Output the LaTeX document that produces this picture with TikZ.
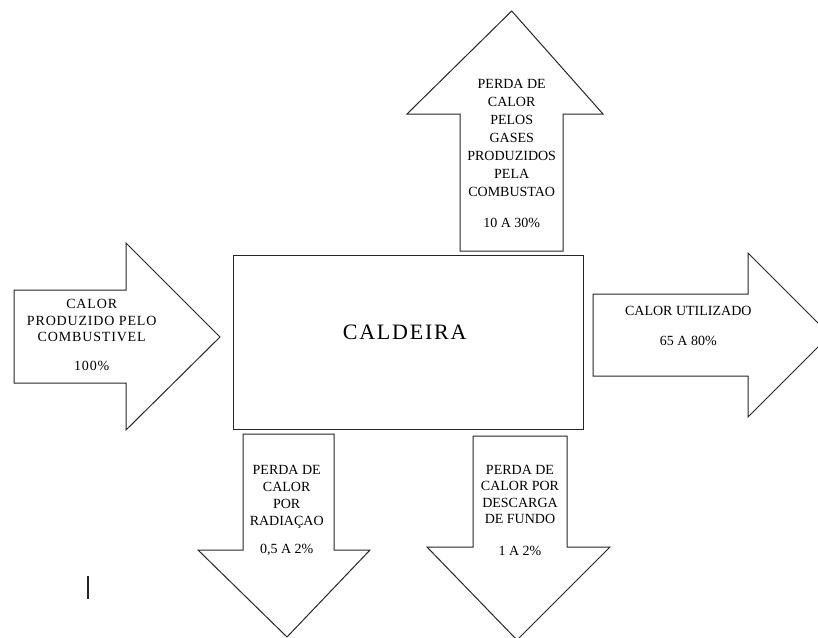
\documentclass[tikz,border=0pt]{standalone}
\usepackage{fontspec}
\setmainfont{Liberation Serif}
\begin{document}
\begin{tikzpicture}[x=1pt,y=-1pt,
  shp/.style={draw=black!85, line width=1pt, fill=white, line join=miter},
  lbl/.style={align=center, inner sep=0pt, anchor=base}]
\useasboundingbox (0,0) rectangle (818,637);
\clip (0,0) rectangle (818,637);
% top arrow
\draw[shp] (460,251) -- (460,114) -- (407,114) -- (511.7,11) -- (603,114) -- (563,114) -- (563,251) -- cycle;
% main box
\draw[shp] (233,255) rectangle (583,429);
% left arrow
\draw[shp] (14,290) -- (126,290) -- (126,243) -- (220,337) -- (126,430) -- (126,383) -- (14,383) -- cycle;
% right arrow
\draw[shp] (593,294) -- (748,294) -- (748,253) -- (830,335) -- (748,417) -- (748,376) -- (593,376) -- cycle;
% bottom left arrow
\draw[shp] (243,434) -- (334,434) -- (334,550) -- (370,550) -- (287,637) -- (198,550) -- (243,550) -- cycle;
% bottom right arrow
\draw[shp] (473,436) -- (567,436) -- (567,547) -- (610,547) -- (517,640) -- (427,547) -- (473,547) -- cycle;
% stray vertical mark
\draw[black!85, line width=1.3pt] (88,576) -- (88,599);
% texts (anchored at the baseline of their last line)
\node[lbl, font=\fontsize{22}{26}\selectfont\addfontfeature{LetterSpace=8}] (cald) at (404.7,339.3) {CALDEIRA};
\node[lbl, font=\fontsize{14}{18}\selectfont] (gases) at (511.7,227.7) {PERDA DE\\CALOR\\PELOS\\GASES\\PRODUZIDOS\\PELA\\COMBUSTAO\\[13pt]10 A 30\%};
\node[lbl, font=\fontsize{14}{16.7}\selectfont\addfontfeature{LetterSpace=6}] (comb) at (91.7,370) {CALOR\\PRODUZIDO PELO\\COMBUSTIVEL\\[11.6pt]100\%};
\node[lbl, font=\fontsize{14}{17}\selectfont] (util) at (688.3,345) {CALOR UTILIZADO\\[13pt]65 A 80\%};
\node[lbl, font=\fontsize{14}{16.9}\selectfont] (rad) at (286.7,553.3) {PERDA DE\\CALOR\\POR\\RADIAÇAO\\[11.4pt]0,5 A 2\%};
\node[lbl, font=\fontsize{14}{16.5}\selectfont] (fundo) at (520,555) {PERDA DE\\CALOR POR\\DESCARGA\\DE FUNDO\\[14.8pt]1 A 2\%};
\end{tikzpicture}
\end{document}
